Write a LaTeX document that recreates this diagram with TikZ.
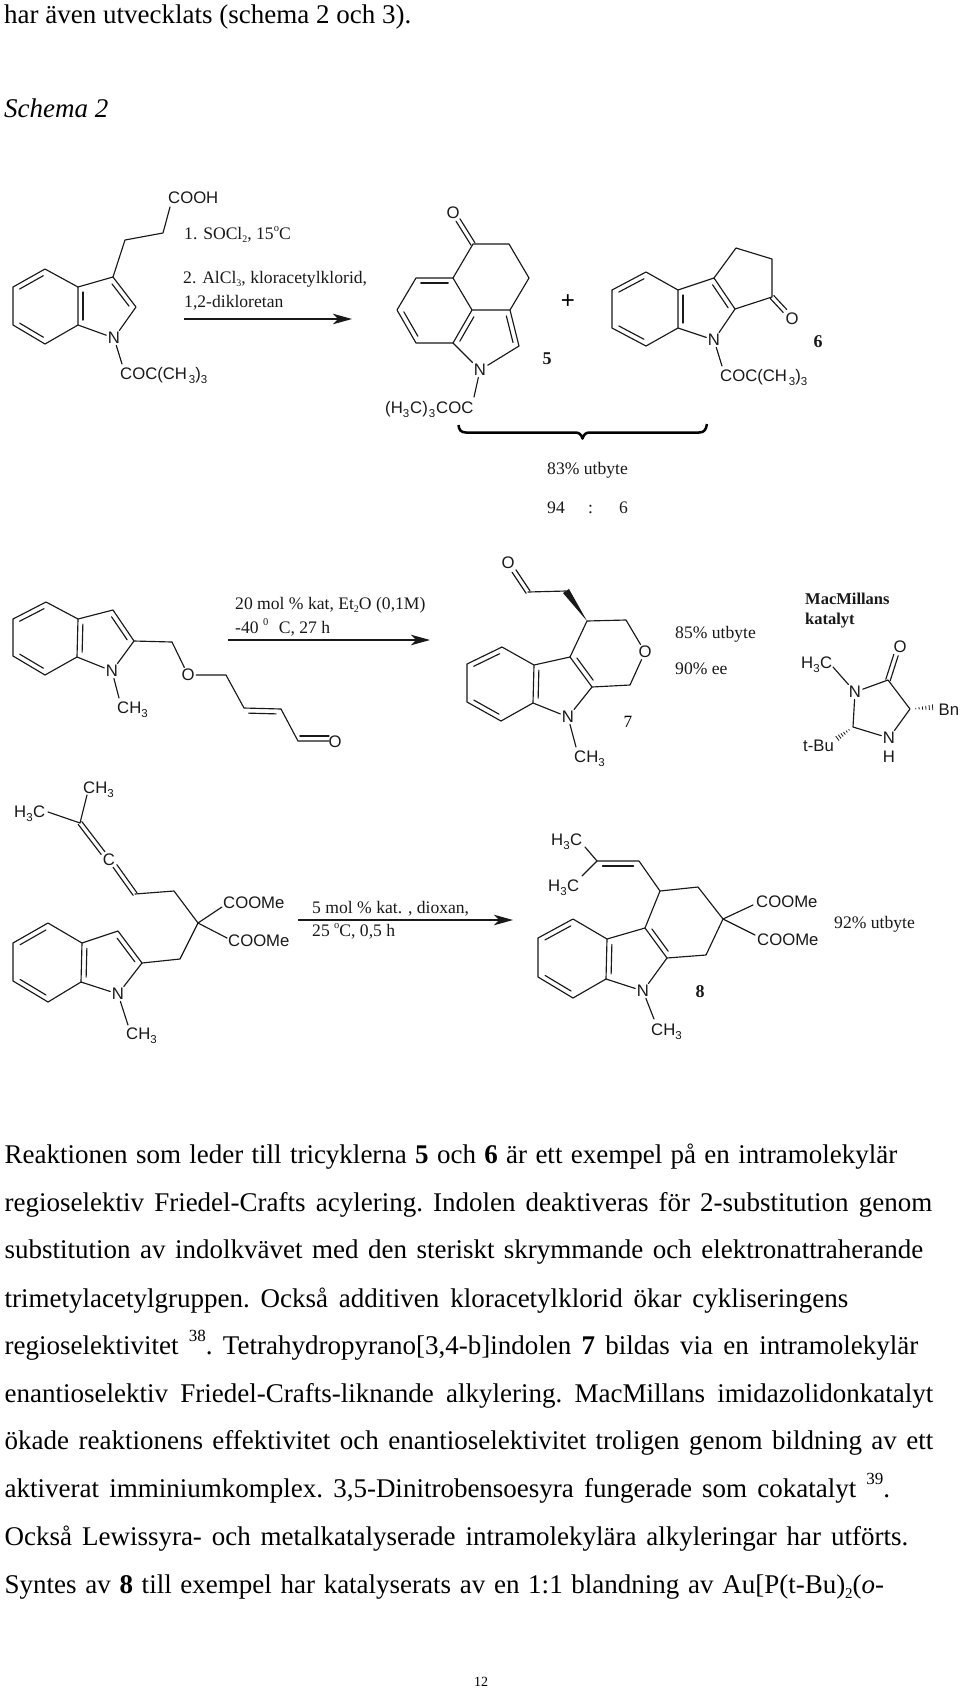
\documentclass[tikz,border=0pt]{standalone}
\usepackage{fontspec}
\setmainfont{Liberation Serif}
\setsansfont{Liberation Sans}
\usetikzlibrary{calc,arrows.meta}
\newcommand{\lowi}[1]{\raisebox{-.28em}{\fontsize{11.5}{12}\selectfont #1}}
\newcommand{\lowt}[1]{\raisebox{-.22em}{\fontsize{10}{10}\selectfont #1}}
\newcommand{\upt}[1]{\raisebox{.45em}{\fontsize{10.5}{10}\selectfont #1}}
\newcommand{\pts}[1]{\foreach \n/\x/\y in {#1}{\coordinate (\n) at (\x,\y);}}
\newcommand{\ib}[2]{\draw[bond] ($(#1)!.13!(#2)!5pt!90:(#2)$) -- ($(#2)!.13!(#1)!-5pt!90:(#1)$);}
\newcommand{\ibo}[2]{\draw[bond] ($(#1)!.06!(#2)!5pt!90:(#2)$) -- ($(#2)!0!(#1)!-5pt!90:(#1)$);}
\newcommand{\dbo}[2]{\draw[bond] ($(#1)!2.3pt!90:(#2)$) -- ($(#2)!2.3pt!-90:(#1)$);\draw[bond] ($(#1)!2.3pt!-90:(#2)$) -- ($(#2)!2.3pt!90:(#1)$);}
\newcommand{\hashb}[2]{\foreach \t in {.22,.35,.48,.61,.74,.87,1}{\pgfmathsetmacro\w{\t*3.2}\draw[hashline] ($(#1)!\t!(#2)!\w*1pt!90:(#2)$) -- ($(#1)!\t!(#2)!\w*1pt!-90:(#2)$);}}
\newcommand{\bl}[4]{\node[body,anchor=base west] (#1) at (4.5,#2) {\makebox[\dimexpr#3pt-4.5pt\relax][s]{\frenchspacing #4}};}
\tikzset{
  bond/.style={line width=1.15pt,line join=round,line cap=round,black!90},
  hashline/.style={line width=.8pt,black!90},
  atom/.style={font=\fontsize{16.7}{17}\sffamily\selectfont,inner sep=1.5pt,text=black!90},
  lab/.style={atom,anchor=base west,inner sep=0pt},
  captxt/.style={font=\fontsize{17.6}{18}\rmfamily\selectfont,anchor=base west,inner sep=0pt,text=black!90},
  num/.style={font=\fontsize{18}{18}\rmfamily\bfseries\selectfont,anchor=center,inner sep=0pt,text=black!90},
  body/.style={font=\fontsize{27}{28}\rmfamily\selectfont,inner sep=0pt,text=black},
  rxn/.style={line width=1.15pt,black!90,-{Stealth[length=19pt,width=10.5pt,inset=5pt]}},
  bracel/.style={line width=2.5pt,black,line join=round},
}
\begin{document}
\begin{tikzpicture}[x=1pt,y=-1pt]
\useasboundingbox (0,0) rectangle (960,1690);
% header
\node[body,anchor=base west] (t1) at (4,23) {har även utvecklats (schema 2 och 3).};
\node[body,anchor=base west] (t2) at (4,117) {\itshape Schema 2};
% indole acid
\pts{a1/45/269,a2/13/287,a3/13/325,a4/45/344,a5/78/325,a6/78/287,a7/113/277,a8/136/307,a9/125/240,a10/163/233,a11/170/207,a12/122/364}
\node[atom] (aN) at (114,338) {N};
\draw[bond] (a6)--(a1)--(a2)--(a3)--(a4)--(a5)--(a6)--(a7)--(a8)--(aN)--(a5);
\draw[bond] (a7)--(a9)--(a10)--(a11);
\draw[bond] (aN)--(a12);
\ib{a1}{a2}\ib{a3}{a4}\ib{a6}{a5}\ib{a8}{a7}
\node[lab] (aC) at (168,203) {COOH};
\node[lab] (aT) at (120,379) {COC(CH\kern2pt\lowi{3})\lowi{3}};
% reaction 1
\node[captxt] (r1a) at (184,239) {1. SOCl\lowt{2}, 15\upt{o}C};
\node[captxt] (r1b) at (183,283) {2. AlCl\lowt{3}, kloracetylklorid,};
\node[captxt] (r1c) at (184,307) {1,2-dikloretan};
\coordinate (r1s) at (184,319); \coordinate (r1e) at (352,319);
\draw[rxn] (r1s)--(r1e);
% product 5
\pts{b1/416/278,b2/397/310,b3/416/343,b4/453/343,b5/472/310,b6/453/278,b7/473/244,b8/509/244,b9/529/278,b10/510/310,b11/519/346,b12/458/220,b13/474/397}
\node[atom] (bN) at (480,370) {N};
\node[atom] (bO) at (453,213) {O};
\draw[bond] (b6)--(b1)--(b2)--(b3)--(b4)--(b5)--(b6)--(b7)--(b8)--(b9)--(b10)--(b5);
\draw[bond] (b10)--(b11)--(bN)--(b4);
\draw[bond] (bN)--(b13);
\dbo{b7}{b12}
\ib{b6}{b1}\ib{b2}{b3}
\ib{b5}{b4}\ib{b11}{b10}
\node[lab] (bT) at (385,413) {(H\lowi{3}\kern1pt C)\kern1pt\lowi{3}\kern1pt COC};
\node[num] (n5) at (547,359) {5};
\node[font=\fontsize{24}{24}\sffamily\selectfont,inner sep=0pt] (plus) at (568,302) {+};
% product 6
\pts{f1/646/272,f2/612/290,f3/612/328,f4/646/346,f5/678/328,f6/678/290,f7/714/278,f8/735/309,f9/736/248,f10/772/259,f11/772/297,f12/785/311,f13/722/366}
\node[atom] (fN) at (714,340) {N};
\node[atom] (fO) at (792,319) {O};
\draw[bond] (f6)--(f1)--(f2)--(f3)--(f4)--(f5)--(f6)--(f7)--(f8)--(fN)--(f5);
\draw[bond] (f7)--(f9)--(f10)--(f11)--(f8);
\draw[bond] (fN)--(f13);
\dbo{f11}{f12}
\ib{f1}{f2}\ib{f3}{f4}\ib{f6}{f5}\ib{f8}{f7}
\node[lab] (fT) at (720,381) {COC(CH\kern2pt\lowi{3})\lowi{3}};
\node[num] (n6) at (818,342) {6};
% brace
\pts{h1/458.5/425,h2/466/432.5,h3/575/432.5,h4/582.5/438.5,h5/590/432.5,h6/699/432.5,h7/707/424}
\draw[bracel] (h1) .. controls (459,430) and (461,432.5) .. (h2) -- (h3) .. controls (579,432.5) and (581,434) .. (h4) .. controls (584,434) and (586,432.5) .. (h5) -- (h6) .. controls (704,432.5) and (706,430) .. (h7);
\node[captxt] (y83) at (547,474) {83\% utbyte};
\node[captxt] (y94) at (547,513) {94};
\node[captxt] (ycol) at (588,513) {:};
\node[captxt] (y6) at (619,513) {6};
% row 2 start
\pts{c1/46/602,c2/13/619,c3/13/656,c4/45/675,c5/77/657,c6/78/619,c7/113/610,c8/134/641,c9/172/642,c10/226/675,c11/244/708,c12/281/709,c13/298/741,c14/329/741,c15/119/698}
\node[atom] (cN) at (112,671) {N};
\node[atom] (cO) at (188,675) {O};
\node[atom] (cO2) at (335,742) {O};
\draw[bond] (c6)--(c1)--(c2)--(c3)--(c4)--(c5)--(c6)--(c7)--(c8)--(cN)--(c5);
\draw[bond] (cN)--(c15);
\draw[bond] (c8)--(c9)--(cO)--(c10)--(c11)--(c12)--(c13)--(c14);
\ib{c1}{c2}\ib{c3}{c4}\ib{c6}{c5}\ib{c8}{c7}
\ib{c12}{c11}
\ibo{c13}{c14}
\node[lab] (cT) at (117,713) {CH\lowi{3}};
% reaction 2
\node[captxt] (r2a) at (235,609) {20 mol \% kat, Et\lowt{2}O (0,1M)};
\node[captxt] (r2b) at (235,633) {-40 \upt{0}\hspace{.6em}C, 27 h};
\coordinate (r2s) at (228,640); \coordinate (r2e) at (430,640);
\draw[rxn] (r2s)--(r2e);
% product 7
\pts{d1/528/592,d0/514/571,d2/566/591,d3/587/621,d4/626/620,d5/630/685,d6/592/687,d7/570/657,d8/534/665,d9/502/647,d10/467/664,d11/467/702,d12/501/721,d13/533/703,d14/576/747}
\node[atom] (dO) at (508,563) {O};
\node[atom] (dO2) at (645,652) {O};
\node[atom] (dN) at (568,717) {N};
\draw[bond] (d8)--(d9)--(d10)--(d11)--(d12)--(d13)--(d8)--(d7)--(d6)--(dN)--(d13);
\draw[bond] (d7)--(d3)--(d4)--(dO2)--(d5)--(d6);
\draw[bond] (d1)--(d2);
\draw[bond] (dN)--(d14);
\dbo{d1}{d0}
\fill[black!90] (d3) -- ($(d2)!3.6pt!90:(d3)$) -- ($(d2)!3.6pt!-90:(d3)$) -- cycle;
\ib{d9}{d10}\ib{d11}{d12}\ib{d8}{d13}\ib{d7}{d6}
\node[lab] (dT) at (574,762) {CH\lowi{3}};
\node[font=\fontsize{17.2}{18}\rmfamily\selectfont,inner sep=0pt] (n7) at (628,722) {7};
\node[captxt] (y85) at (675,638) {85\% utbyte};
\node[captxt] (e90) at (675,674) {90\% ee};
% catalyst
\node[captxt,font=\fontsize{16.5}{18}\rmfamily\bfseries\selectfont] (mm1) at (805,604) {MacMillans};
\node[captxt,font=\fontsize{16.5}{18}\rmfamily\bfseries\selectfont] (mm2) at (805,624) {katalyt};
\pts{g1/833/667,g2/888/680,g3/896/655,g4/910/709,g5/853/727,g6/936/707,g7/835/740}
\node[atom] (gN) at (855,692) {N};
\node[atom] (gN2) at (889,738) {N};
\node[atom] (gH) at (889,757) {H};
\node[atom] (gO) at (900,647) {O};
\draw[bond] (g1)--(gN)--(g2)--(g4)--(gN2)--(g5)--(gN);
\dbo{g2}{g3}
\hashb{g4}{g6}
\hashb{g5}{g7}
\node[lab] (gT) at (801,668) {H\lowi{3}\kern.5pt C};
\node[lab] (gB) at (938.5,715) {Bn};
\node[lab] (gU) at (803,751) {t-Bu};
% row 3 start
\pts{e1/80/823,e2/103/853,e3/115/866,e4/135/894,e5/174/891,e6/198/923,e7/222/907,e8/227/938,e9/180/959,e10/142/963,e11/118/931,e12/82/943,e13/48/923,e14/13/943,e15/13/981,e16/48/1002,e17/81/982,e18/128/1025,e19/87/795,e20/48/812}
\node[atom,inner sep=0pt] (eC) at (109,860) {C};
\node[atom] (eN) at (118,994) {N};
\draw[bond] (e19)--(e1)--(e20);
\dbo{e1}{e2}\dbo{e3}{e4}
\draw[bond] (e4)--(e5)--(e6)--(e9)--(e10)--(e11)--(e12)--(e13)--(e14)--(e15)--(e16)--(e17)--(e12);
\draw[bond] (e7)--(e6)--(e8);
\draw[bond] (e10)--(eN)--(e17);
\draw[bond] (eN)--(e18);
\ib{e13}{e14}\ib{e15}{e16}\ib{e12}{e17}\ib{e10}{e11}
\node[lab] (eA) at (83,793) {CH\lowi{3}};
\node[lab] (eB) at (14,817) {H\lowi{3}\kern.5pt C};
\node[lab] (eM1) at (223,908) {COOMe};
\node[lab] (eM2) at (228,946) {COOMe};
\node[lab] (eD) at (126,1039) {CH\lowi{3}};
% reaction 3
\node[captxt] (r3a) at (312,913) {5 mol \% kat. , dioxan,};
\node[captxt] (r3b) at (312,936) {25 \upt{o}C, 0,5 h};
\coordinate (r3s) at (298,920); \coordinate (r3e) at (513,920);
\draw[rxn] (r3s)--(r3e);
% product 8
\pts{k1/585/847,k2/582/876,k3/597/861,k4/639/861,k5/660/891,k6/698/887,k7/723/919,k8/753/905,k9/755/935,k10/706/955,k11/667/958,k12/645/928,k13/607/939,k14/573/919,k15/538/938,k16/538/977,k17/573/998,k18/606/979,k19/654/1019}
\node[atom] (kN) at (643,991) {N};
\draw[bond] (k1)--(k3)--(k2);
\draw[bond] (k3)--(k4)--(k5)--(k6)--(k7)--(k10)--(k11)--(k12)--(k5);
\draw[bond] (k8)--(k7)--(k9);
\draw[bond] (k12)--(k13)--(k14)--(k15)--(k16)--(k17)--(k18)--(k13);
\draw[bond] (k11)--(kN)--(k18);
\draw[bond] (kN)--(k19);
\ib{k4}{k3}\ib{k14}{k15}\ib{k16}{k17}\ib{k13}{k18}\ib{k12}{k11}
\node[lab] (kA) at (551,845) {H\lowi{3}\kern.5pt C};
\node[lab] (kB) at (548,891) {H\lowi{3}\kern.5pt C};
\node[lab] (kM1) at (756,907) {COOMe};
\node[lab] (kM2) at (757,945) {COOMe};
\node[lab] (kD) at (651,1035) {CH\lowi{3}};
\node[num] (n8) at (700,992) {8};
\node[captxt] (y92) at (834,928) {92\% utbyte};
% body
\bl{l1}{1163}{897}{Reaktionen som leder till tricyklerna \textbf{5} och \textbf{6} är ett exempel på en intramolekylär}
\bl{l2}{1211}{932}{regioselektiv Friedel-Crafts acylering. Indolen deaktiveras för 2-substitution genom}
\bl{l3}{1258}{923}{substitution av indolkvävet med den steriskt skrymmande och elektronattraherande}
\bl{l4}{1307}{848}{trimetylacetylgruppen. Också additiven kloracetylklorid ökar cykliseringens}
\bl{l5}{1354}{918}{regioselektivitet \raisebox{.45em}{\fontsize{17}{17}\selectfont 38}. Tetrahydropyrano[3,4-b]indolen \textbf{7} bildas via en intramolekylär}
\bl{l6}{1402}{933}{enantioselektiv Friedel-Crafts-liknande alkylering. MacMillans imidazolidonkatalyt}
\bl{l7}{1449}{933}{ökade reaktionens effektivitet och enantioselektivitet troligen genom bildning av ett}
\bl{l8}{1497}{890}{aktiverat imminiumkomplex. 3,5-Dinitrobensoesyra fungerade som cokatalyt \raisebox{.45em}{\fontsize{17}{17}\selectfont 39}.}
\bl{l9}{1545}{908}{Också Lewissyra- och metalkatalyserade intramolekylära alkyleringar har utförts.}
\bl{l10}{1593}{884}{Syntes av \textbf{8} till exempel har katalyserats av en 1:1 blandning av Au[P(t-Bu)\raisebox{-.2em}{\fontsize{15}{15}\selectfont 2}(\textit{o}-}
\node[font=\fontsize{14}{14}\rmfamily\selectfont,inner sep=0pt] (pg) at (481,1682) {12};
\end{tikzpicture}
\end{document}
